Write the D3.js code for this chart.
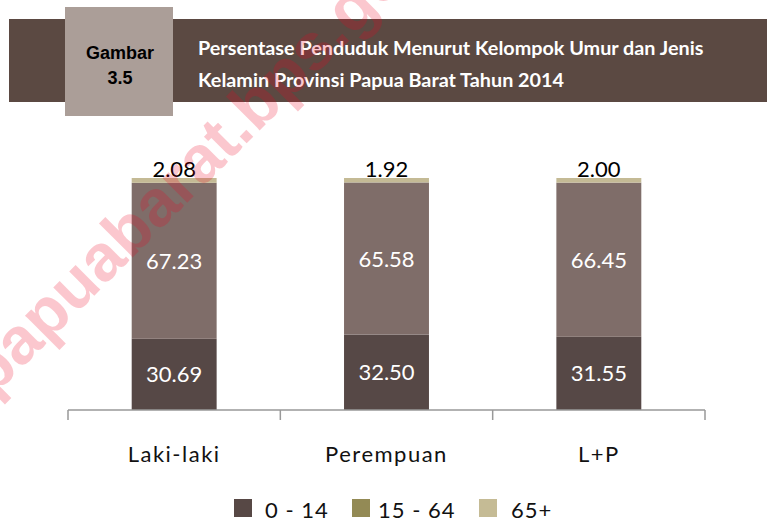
<!DOCTYPE html>
<html>
<head>
<meta charset="utf-8">
<script src="https://cdn.jsdelivr.net/npm/d3@7"></script>
<style>
  body { margin: 0; background: #fff; }
  svg { display: block; }
</style>
</head>
<body>
<div id="chart"></div>
<script>
const categories = ["Laki-laki", "Perempuan", "L+P"];
const groups = ["0 - 14", "15 - 64", "65+"];
const age0to14 = [30.69, 32.5, 31.55];
const age15to64 = [67.23, 65.58, 66.45];
const age65plus = [2.08, 1.92, 2.0];
const titleLines = [
  "Persentase Penduduk Menurut Kelompok Umur dan Jenis",
  "Kelamin Provinsi Papua Barat Tahun 2014"
];

const BAR_COLORS = ["#564846", "#7f6d69", "#c4ba95"];
const LEGEND_COLORS = ["#574845", "#938a55", "#c5bb95"];

const W = 767, H = 523;
const svg = d3.select("#chart").append("svg").attr("width", W).attr("height", H);

// header band
svg.append("rect").attr("x", 9).attr("y", 19).attr("width", W - 9).attr("height", 83)
  .attr("fill", "#5b4942");
svg.append("rect").attr("x", 65).attr("y", 7).attr("width", 108).attr("height", 109)
  .attr("fill", "#ab9e98");
svg.append("text").attr("x", 120).attr("y", 59).attr("text-anchor", "middle")
  .style("font", "bold 18px 'Liberation Sans', Arial, sans-serif").attr("fill", "#000")
  .text("Gambar");
svg.append("text").attr("x", 120).attr("y", 84).attr("text-anchor", "middle")
  .style("font", "bold 18px 'Liberation Sans', Arial, sans-serif").attr("fill", "#000")
  .text("3.5");
svg.selectAll(".title").data(titleLines).enter().append("text")
  .attr("class", "title")
  .attr("x", 198).attr("y", (d, i) => 55 + i * 32)
  .style("font", "bold 19.8px Lato, 'Open Sans', sans-serif").attr("fill", "#fff")
  .text(d => d);

// chart
const rows = categories.map((c, i) => ({
  cat: c, "0 - 14": age0to14[i], "15 - 64": age15to64[i], "65+": age65plus[i]
}));
const stack = d3.stack().keys(groups)(rows);

const x = d3.scaleBand().domain(categories).range([68, 705])
  .paddingInner(0.6).paddingOuter(0.3);
const y = d3.scaleLinear().domain([0, 100]).range([410, 178]);

const layer = svg.append("g").selectAll("g").data(stack).enter().append("g")
  .attr("fill", (d, i) => BAR_COLORS[i]);
layer.selectAll("rect").data(d => d).enter().append("rect")
  .attr("x", d => x(d.data.cat))
  .attr("width", x.bandwidth())
  .attr("y", d => y(d[1]))
  .attr("height", d => y(d[0]) - y(d[1]));

// labels inside lower two segments
stack.slice(0, 2).forEach(s => {
  svg.append("g").selectAll("text").data(s).enter().append("text")
    .attr("x", d => x(d.data.cat) + x.bandwidth() / 2)
    .attr("y", d => (y(d[0]) + y(d[1])) / 2 + 8)
    .attr("text-anchor", "middle")
    .style("font", "22px Lato, 'Open Sans', sans-serif")
    .attr("fill", "#fff")
    .text(d => d3.format(".2f")(d[1] - d[0]));
});
// top labels above bar
svg.append("g").selectAll("text").data(stack[2]).enter().append("text")
  .attr("x", d => x(d.data.cat) + x.bandwidth() / 2)
  .attr("y", d => y(d[1]) - 1)
  .attr("text-anchor", "middle")
  .style("font", "22px Lato, 'Open Sans', sans-serif")
  .attr("fill", "#000")
  .text(d => d3.format(".2f")(d[1] - d[0]));

// axis
const axis = svg.append("g").attr("transform", "translate(0,410)");
axis.append("line").attr("x1", 68).attr("x2", 705).attr("stroke", "#999").attr("stroke-width", 1.5);
const tickX = [0, 1, 2, 3].map(i => 68 + i * x.step());
axis.selectAll(".tk").data(tickX).enter().append("line")
  .attr("x1", d => d).attr("x2", d => d).attr("y1", 0).attr("y2", 10)
  .attr("stroke", "#999").attr("stroke-width", 1.5);
axis.selectAll(".cl").data(categories).enter().append("text")
  .attr("x", d => x(d) + x.bandwidth() / 2)
  .attr("y", 52)
  .attr("text-anchor", "middle")
  .style("font", "22px Lato, 'Open Sans', sans-serif")
  .style("letter-spacing", "1.5px")
  .attr("fill", "#111")
  .text(d => d);

// legend
const legendX = [234, 352, 479];
const legend = svg.append("g").selectAll("g").data(groups).enter().append("g")
  .attr("transform", (d, i) => `translate(${legendX[i]},499)`);
legend.append("rect").attr("width", 18).attr("height", 18)
  .attr("fill", (d, i) => LEGEND_COLORS[i]);
legend.append("text").attr("x", (d, i) => [31, 26, 32][i]).attr("y", 19)
  .style("font", "22px Lato, 'Open Sans', sans-serif")
  .style("letter-spacing", "1px").attr("fill", "#111")
  .text(d => d);

// watermark
svg.append("text")
  .attr("transform", "translate(-8,398) rotate(-45)")
  .style("font", "bold 66px 'Liberation Sans', Arial, sans-serif")
  .attr("fill", "#ee0022").attr("fill-opacity", 0.22)
  .text("papuabarat.bps.go.id");
</script>
</body>
</html>
